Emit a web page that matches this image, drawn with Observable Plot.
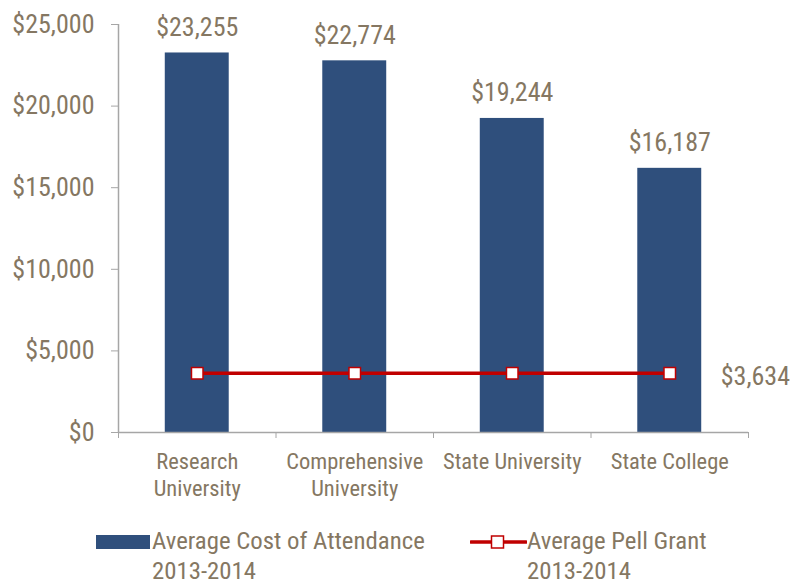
<!DOCTYPE html>
<html><head><meta charset="utf-8">
<script src="https://cdn.jsdelivr.net/npm/d3@7"></script>
<script src="https://cdn.jsdelivr.net/npm/@observablehq/plot@0.6"></script>
<style>
body{margin:0;background:#fff;}
#wrap{position:relative;width:802px;height:584px;font-family:"Liberation Sans Narrow","Roboto Condensed","DejaVu Sans Condensed",sans-serif;color:#857762;}
.leg{position:absolute;font-size:24.8px;line-height:30px;color:#857762;}
</style></head>
<body><div id="wrap"></div>
<script>
const categories = ["Research\nUniversity","Comprehensive\nUniversity","State University","State College"];
const costValues = [23255, 22774, 19244, 16187];
const pellValues = [3634, 3634, 3634, 3634];
const yTicks = [0, 5000, 10000, 15000, 20000, 25000];
const legendLabels = ["Average Cost of Attendance\n2013-2014", "Average Pell Grant\n2013-2014"];

const FONT = '"Liberation Sans Narrow","Roboto Condensed","DejaVu Sans Condensed",sans-serif';
const TXT = "#857762", BAR = "#2F4F7C", RED = "#C00000", AX = "#a6a6a6";
const data = categories.map((c,i)=>({c, i, cost: costValues[i], pell: pellValues[i]}));
const money = d => "$" + d3.format(",")(d);

const plot = Plot.plot({
  width: 802, height: 510,
  marginLeft: 118, marginRight: 54, marginTop: 24, marginBottom: 78,
  style: {fontFamily: FONT, fontSize: "22px", color: TXT, background: "#fff"},
  x: {domain: [0, 4]},
  y: {domain: [0, 25000]},
  marks: [
    Plot.rectY(data, {x1: d => d.i + 0.297, x2: d => d.i + 0.703, y: "cost", fill: BAR}),
    Plot.ruleX([0], {y1: 0, y2: 25000, stroke: AX, strokeWidth: 1.5}),
    Plot.ruleY([0], {stroke: AX, strokeWidth: 1.5}),
    Plot.axisY({ticks: yTicks, tickSize: 7, tickPadding: 17, tickFormat: money, stroke: AX, fill: TXT, fontSize: 26, label: null}),
    Plot.axisX({ticks: [0,1,2,3,4], tickSize: 6, tickFormat: () => "", stroke: AX, label: null}),
    Plot.text(data, {x: d => d.i + 0.5, y: 0, text: "c", lineAnchor: "top", dy: 17, fontSize: 22.5, lineHeight: 1.22, fill: TXT}),
    Plot.text(data, {x: d => d.i + 0.5, y: "cost", text: d => money(d.cost), lineAnchor: "bottom", dy: -17, fontSize: 26, fill: TXT}),
    Plot.lineY(data, {x: d => d.i + 0.5, y: "pell", stroke: RED, strokeWidth: 3.5}),
    Plot.dot(data, {x: d => d.i + 0.5, y: "pell", symbol: "square", r: 6.5, fill: "#fff", stroke: RED, strokeWidth: 1.5}),
    Plot.text(data.slice(-1), {x: d => d.i + 0.5, y: "pell", text: d => money(d.pell), textAnchor: "start", dx: 51, dy: 3, fontSize: 26, fill: TXT})
  ]
});
const wrap = document.getElementById("wrap");
wrap.appendChild(plot);

function legItem(left, swatchHTML, label){
  const d = document.createElement("div");
  d.className = "leg";
  d.style.left = left + "px";
  d.style.top = "526px";
  d.innerHTML = swatchHTML + '<div style="display:inline-block;vertical-align:top;white-space:pre">' + label + '</div>';
  wrap.appendChild(d);
}
legItem(96, `<svg width="56" height="30" style="vertical-align:top"><rect x="0" y="9" width="54" height="14" fill="${BAR}"/></svg>`, legendLabels[0]);
legItem(470, `<svg width="57" height="30" style="vertical-align:top"><line x1="1" x2="56" y1="16" y2="16" stroke="${RED}" stroke-width="3.5" stroke-linecap="round"/><rect x="21.5" y="10" width="12" height="12" fill="#fff" stroke="${RED}" stroke-width="1.5"/></svg>`, legendLabels[1]);
</script></body></html>
